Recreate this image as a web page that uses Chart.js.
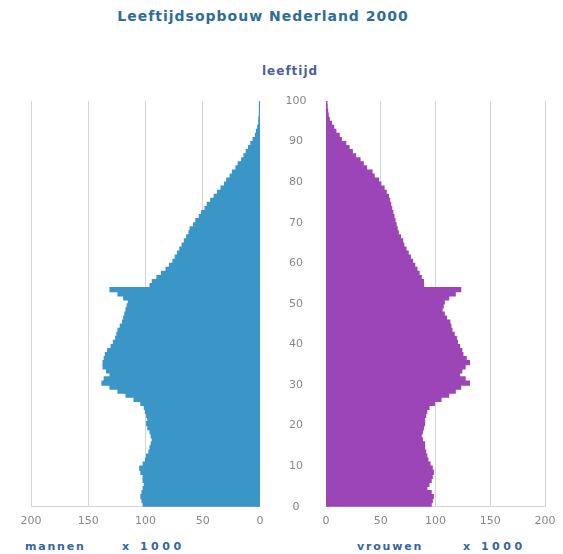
<!DOCTYPE html>
<html>
<head>
<meta charset="utf-8">
<script src="https://cdn.jsdelivr.net/npm/chart.js@4.4.0/dist/chart.umd.min.js"></script>
<style>
  body { margin: 0; background: #fff; width: 563px; height: 554px; position: relative; overflow: hidden; font-family: "DejaVu Sans", sans-serif; }
  .lbl { position: absolute; font-weight: bold; white-space: nowrap; }
  #title { left: 0; width: 526px; text-align: center; top: 8px; font-size: 14px; letter-spacing: 1px; color: #2e6c9a; }
  #leeftijd { left: 262px; top: 64px; font-size: 12px; letter-spacing: 1px; color: #4a5ea0; }
  .foot { top: 540px; font-size: 11px; letter-spacing: 1.8px; color: #3366a6; }
  .foot.num { letter-spacing: 3.5px; }
  #left { position: absolute; left: 0; top: 90px; }
  #right { position: absolute; left: 270px; top: 90px; }
</style>
</head>
<body>
<div id="title" class="lbl">Leeftijdsopbouw Nederland 2000</div>
<div id="leeftijd" class="lbl">leeftijd</div>
<div class="lbl foot" style="left:25px">mannen</div>
<div class="lbl foot num" style="left:122px">x 1000</div>
<div class="lbl foot" style="left:357px">vrouwen</div>
<div class="lbl foot num" style="left:463px">x 1000</div>
<canvas id="left" width="275" height="445"></canvas>
<canvas id="right" width="293" height="445"></canvas>
<script>
// leeftijd 0..99
var ages = [
  0, 1, 2, 3, 4, 5, 6, 7, 8, 9, 10, 11, 12, 13, 14, 15, 16, 17, 18, 19,
  20, 21, 22, 23, 24, 25, 26, 27, 28, 29, 30, 31, 32, 33, 34, 35, 36, 37, 38, 39,
  40, 41, 42, 43, 44, 45, 46, 47, 48, 49, 50, 51, 52, 53, 54, 55, 56, 57, 58, 59,
  60, 61, 62, 63, 64, 65, 66, 67, 68, 69, 70, 71, 72, 73, 74, 75, 76, 77, 78, 79,
  80, 81, 82, 83, 84, 85, 86, 87, 88, 89, 90, 91, 92, 93, 94, 95, 96, 97, 98, 99
];

// mannen x 1000
var mannen = [
  102, 103, 104, 103, 102, 101, 102, 102, 104, 105,
  102, 100, 99, 97, 96, 95, 94, 95, 96, 98,
  99, 98, 99, 100, 101, 104, 110, 117, 124, 131,
  138, 136, 131, 134, 137, 137, 136, 135, 133, 130,
  128, 126, 125, 124, 122, 120, 119, 118, 117, 116,
  115, 119, 124, 131, 96, 94, 90, 86, 82, 79,
  76, 74, 72, 70, 68, 66, 64, 62, 61, 58,
  56, 53, 51, 48, 46, 43, 40, 37, 34, 31,
  29, 26, 24, 21, 19, 16, 14, 12, 10, 8,
  6, 4, 3, 2, 1, 1, 0.5, 0.3, 0.2, 0.1
];

// vrouwen x 1000
var vrouwen = [
  96, 97, 98, 96, 92, 94, 96, 97, 98, 97,
  95, 93, 92, 91, 90, 90, 88, 87, 88, 89,
  90, 90, 91, 92, 94, 99, 105, 112, 118, 123,
  131, 127, 122, 124, 127, 131, 128, 125, 124, 122,
  120, 119, 117, 115, 114, 113, 110, 108, 106, 107,
  108, 112, 118, 123, 89, 89, 87, 85, 83, 81,
  79, 77, 75, 73, 71, 70, 68, 66, 65, 64,
  63, 62, 61, 60, 59, 58, 57, 55, 53, 50,
  48, 44, 42, 37, 34, 31, 27, 24, 21, 18,
  14, 12, 9, 7, 5, 3, 2, 1.5, 1, 0.8
];

var xTicks = [0, 50, 100, 150, 200];
var ageTicks = [0, 10, 20, 30, 40, 50, 60, 70, 80, 90, 100];

var gridColor = '#d4d4d4';
var tickFont = { family: 'DejaVu Sans', size: 11 };

function points(values) {
  return values.map(function (v, i) { return { x: v, y: ages[i] + 0.5 }; });
}

function setTicks(list) {
  return function (scale) {
    scale.ticks = list.map(function (v) { return { value: v }; });
  };
}

// no gridline at 0, the bars sit there
function gridLine(ctx) {
  return ctx.tick && ctx.tick.value === 0 ? 'rgba(0,0,0,0)' : gridColor;
}

new Chart(document.getElementById('left'), {
  type: 'bar',
  data: {
    datasets: [{
      data: points(mannen),
      backgroundColor: '#3b96c8',
      borderWidth: 0,
      inflateAmount: 0.6,
      barPercentage: 1,
      categoryPercentage: 1
    }]
  },
  options: {
    responsive: false,
    animation: false,
    indexAxis: 'y',
    layout: { padding: { left: 31, right: 15, top: 11, bottom: 0 } },
    plugins: { legend: { display: false }, tooltip: { enabled: false } },
    scales: {
      x: {
        type: 'linear', min: 0, max: 200, reverse: true,
        afterBuildTicks: setTicks(xTicks),
        grid: { color: gridLine, drawTicks: false, tickLength: 0 },
        border: { color: gridColor },
        ticks: { padding: 7.5, color: '#888', font: tickFont }
      },
      y: { type: 'linear', min: 0, max: 100, offset: false, display: false }
    }
  }
});

new Chart(document.getElementById('right'), {
  type: 'bar',
  data: {
    datasets: [{
      data: points(vrouwen),
      backgroundColor: '#9b45b7',
      borderWidth: 0,
      inflateAmount: 0.6,
      barPercentage: 1,
      categoryPercentage: 1
    }]
  },
  options: {
    responsive: false,
    animation: false,
    indexAxis: 'y',
    layout: { padding: { left: 0, right: 15, top: 11, bottom: 0 } },
    plugins: { legend: { display: false }, tooltip: { enabled: false } },
    scales: {
      x: {
        type: 'linear', min: 0, max: 200,
        afterBuildTicks: setTicks(xTicks),
        grid: { color: gridLine, drawTicks: false, tickLength: 0 },
        border: { color: gridColor },
        ticks: { padding: 7.5, color: '#888', font: tickFont }
      },
      y: {
        type: 'linear', min: 0, max: 100, offset: false, position: 'left',
        afterBuildTicks: setTicks(ageTicks),
        afterFit: function (scale) { scale.width = 56; },
        grid: { display: false, drawTicks: true, tickLength: 19.5 },
        border: { display: false },
        ticks: { padding: 0, crossAlign: 'center', color: '#888', font: tickFont }
      }
    }
  }
});
</script>
</body>
</html>
